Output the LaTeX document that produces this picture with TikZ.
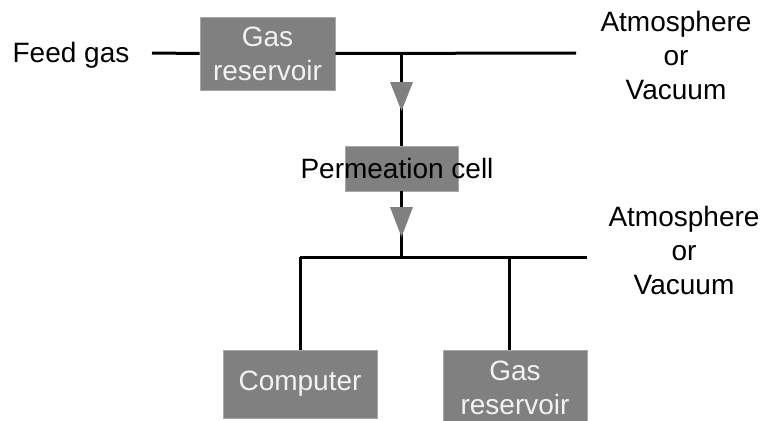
\documentclass[tikz,border=0pt]{standalone}
\usepackage{fontspec}
\setmainfont{Liberation Sans}
\definecolor{boxgray}{HTML}{808080}
\definecolor{boxedge}{HTML}{A8A8A8}
\definecolor{boxtext}{HTML}{F2F2F2}
\begin{document}
\begin{tikzpicture}[x=1pt,y=-1pt,
  lbl/.style={font=\fontsize{28}{34}\selectfont, inner sep=0pt, align=center},
  gbox/.style={fill=boxgray, draw=boxedge, line width=0.8pt, inner sep=0pt,
    font=\fontsize{28}{34}\selectfont, text=boxtext, align=center},
  wire/.style={line width=3pt, black},
  tri/.style={fill=boxgray}]
\useasboundingbox (0,0) rectangle (767,420);
% nodes
\node[lbl, anchor=base] (feed) at (71,63) {Feed gas};
\coordinate (feedend) at (152,53);
\node[gbox, minimum width=135pt, minimum height=73pt] (res1) at (267.5,53.5) {Gas\\reservoir};
\coordinate (j1) at (401,53);
\coordinate (atm1end) at (576,53);
\node[lbl] (atm1) at (676,55) {Atmosphere\\or\\Vacuum};
\node[gbox, minimum width=113pt, minimum height=45pt] (perm) at (401.5,168.5) {};
\coordinate (j2) at (401,257);
\coordinate (jl) at (300,257);
\coordinate (j3) at (509,257);
\coordinate (atm2end) at (587,257);
\node[lbl] (atm2) at (684,250) {Atmosphere\\or\\Vacuum};
\node[gbox, minimum width=154pt, minimum height=68pt] (comp) at (300,384) {Computer};
\node[gbox, minimum width=144pt, minimum height=76pt] (res2) at (515,388) {Gas\\reservoir};
% wires
\draw[wire] (feedend) -- (res1.west);
\draw[wire] (res1.east) -- (atm1end);
\draw[wire] (j1) -- (perm.north -| j1);
\draw[wire] (perm.south -| j2) -- (j2);
\draw[wire] (jl) -- (atm2end);
\draw[wire] (jl) -- (comp.north);
\draw[wire] (j3) -- (j3 |- res2.north);
% arrow heads
\fill[tri] (390,82) -- (413,82) -- (401.5,111) -- cycle;
\fill[tri] (390,207) -- (413,207) -- (401.5,237) -- cycle;
% label on permeation cell
\node[lbl] (permlbl) at (397,168) {Permeation cell};
\end{tikzpicture}
\end{document}
